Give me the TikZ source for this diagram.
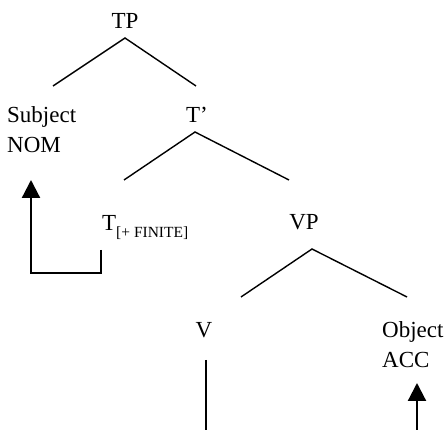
\documentclass[tikz,border=0pt]{standalone}
\usepackage{fontspec}
\setmainfont{Liberation Serif}
\usetikzlibrary{arrows.meta}
\tikzset{
  label/.style={inner sep=0pt, anchor=base, font=\fontsize{23}{27}\selectfont},
  branch/.style={line width=1.4pt},
  movement/.style={line width=2.2pt},
  raise/.style={movement, -{Triangle[length=18pt,width=18pt]}}
}
\begin{document}
\begin{tikzpicture}[x=1pt,y=-1pt]
  \useasboundingbox (0,0) rectangle (448,430);
  % Labels
  \node[label] (TP) at (125,29) {TP};
  \node[label, anchor=base west] (Subj) at (7,123) {Subject};
  \node[label, anchor=base west] (Nom) at (7,153) {NOM};
  \node[label] (Tbar) at (197,123) {T’};
  \node[label, anchor=base west] (T) at (102,231) {T\raisebox{-7pt}{\fontsize{15.5}{17}\selectfont[+ FINITE]}};
  \node[label] (VP) at (304,230) {VP};
  \node[label] (V) at (204,338) {V};
  \node[label, anchor=base west] (Obj) at (382,338) {Object};
  \node[label, anchor=base west] (Acc) at (382,368) {ACC};
  % Branch points
  \coordinate (tp-top) at (125,38);
  \coordinate (tp-l) at (53,86);
  \coordinate (tp-r) at (196,86);
  \coordinate (tbar-top) at (195,132);
  \coordinate (tbar-l) at (124,180);
  \coordinate (tbar-r) at (289,180);
  \coordinate (vp-top) at (312,249);
  \coordinate (vp-l) at (241,297);
  \coordinate (vp-r) at (407,297);
  % Tree
  \draw[branch] (tp-l) -- (tp-top) -- (tp-r);
  \draw[branch] (tbar-l) -- (tbar-top) -- (tbar-r);
  \draw[branch] (vp-l) -- (vp-top) -- (vp-r);
  % Movement
  \coordinate (t-foot) at (101,250);
  \coordinate (t-corner) at (31,273);
  \coordinate (nom-tip) at (31,180);
  \coordinate (v-foot) at (206,360);
  \coordinate (v-end) at (206,430);
  \coordinate (acc-foot) at (417,430);
  \coordinate (acc-tip) at (417,383);
  \draw[raise] (t-foot) |- (t-corner) -- (nom-tip);
  \draw[movement] (v-foot) -- (v-end);
  \draw[raise] (acc-foot) -- (acc-tip);
\end{tikzpicture}
\end{document}
